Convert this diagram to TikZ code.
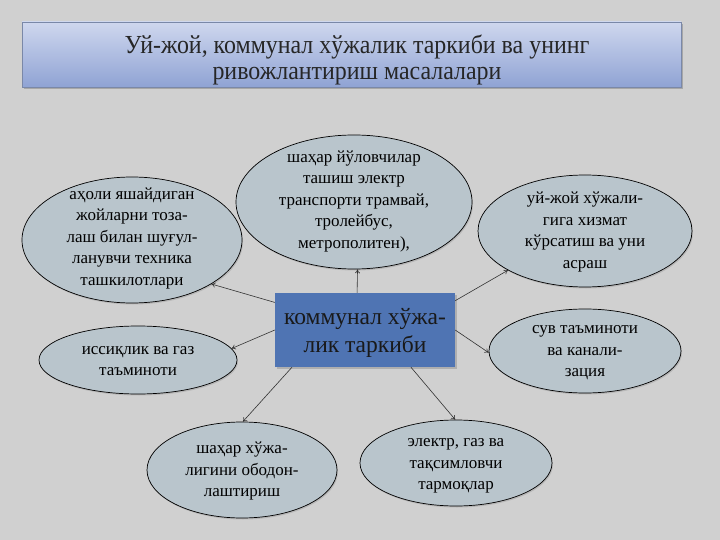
\documentclass[tikz,border=0pt]{standalone}
\usepackage{fontspec}
\setmainfont{Liberation Serif}
\newfontfamily\titlefont[FakeStretch=0.92]{Liberation Serif}
\usetikzlibrary{shapes.geometric,shadows,arrows.meta}
\definecolor{bg}{HTML}{D0D0D0}
\definecolor{ellfill}{HTML}{B9C5CC}
\definecolor{boxblue}{HTML}{4F74B3}
\definecolor{ttop}{HTML}{CFD7EE}
\definecolor{tbot}{HTML}{8FA3D4}
\definecolor{tborder}{HTML}{7A88A8}
\tikzset{
  ell/.style={ellipse, draw=black, line width=0.7pt, fill=ellfill, inner sep=0pt,
    drop shadow={shadow xshift=1pt, shadow yshift=-1.5pt, fill=black!35, opacity=0.6}},
  etxt/.style={align=center, inner sep=0pt, font=\fontsize{17}{21.5}\selectfont},
  arr/.style={-{To[length=4pt,width=5pt]}, draw=black!80, line width=0.6pt},
}
\begin{document}
\begin{tikzpicture}[x=1pt,y=-1pt]
\useasboundingbox[fill=bg] (0,0) rectangle (720,540);
% title
\node[draw=tborder, line width=0.6pt, top color=ttop, bottom color=tbot,
  minimum width=659pt, minimum height=65pt, inner sep=0pt,
  drop shadow={shadow xshift=2pt, shadow yshift=-2pt, fill=black!45, opacity=0.6}]
  (title) at (351.5,54.5) {};
\node[align=center, inner sep=0pt, font=\titlefont\fontsize{26}{25.5}\selectfont, text=black!85]
  (titlet) at (357,60) {Уй-жой, коммунал хўжалик таркиби ва унинг\\ривожлантириш масалалари};
% central box
\node[fill=boxblue, minimum width=180pt, minimum height=74pt, inner sep=0pt,
  drop shadow={shadow xshift=1.5pt, shadow yshift=-1.5pt, fill=black!40, opacity=0.6}]
  (c) at (365,330) {};
\node[align=center, inner sep=0pt, font=\fontsize{23.5}{28}\selectfont, text=black!90]
  (ct) at (365,333) {коммунал хўжа-\\лик таркиби};
% ellipses
\node[ell, minimum width=236pt, minimum height=134pt] (e1) at (354,202) {};
\node[etxt] (e1t) at (354,201) {шаҳар йўловчилар\\ташиш электр\\транспорти трамвай,\\тролейбус,\\метрополитен),};
\node[ell, minimum width=220pt, minimum height=126pt] (e2) at (132,240) {};
\node[etxt] (e2t) at (132,238) {аҳоли яшайдиган\\жойларни тоза-\\лаш билан шуғул-\\ланувчи техника\\ташкилотлари};
\node[ell, minimum width=214pt, minimum height=112pt] (e3) at (585,231) {};
\node[etxt] (e3t) at (585,232) {уй-жой хўжали-\\гига хизмат\\кўрсатиш ва уни\\асраш};
\node[ell, minimum width=198pt, minimum height=68pt] (e4) at (138,360) {};
\node[etxt] (e4t) at (138,361) {иссиқлик ва газ\\таъминоти};
\node[ell, minimum width=192pt, minimum height=84pt] (e5) at (585,351) {};
\node[etxt] (e5t) at (585,353) {сув таъминоти\\ва канали-\\зация};
\node[ell, minimum width=190pt, minimum height=96pt] (e6) at (242,470) {};
\node[etxt] (e6t) at (242,471) {шаҳар хўжа-\\лигини ободон-\\лаштириш};
\node[ell, minimum width=192pt, minimum height=86pt] (e7) at (456,463) {};
\node[etxt] (e7t) at (456,466) {электр, газ ва\\тақсимловчи\\тармоқлар};
% connectors
\draw[arr] (c.102) -- (e1.-87);
\draw[arr] (c.163) -- (e2.-29);
\draw[arr] (c.18) -- (e3.-153);
\draw[arr] (c.180) -- (e4.7);
\draw[arr] (c.0) -- (e5.181);
\draw[arr] (c.-153) -- (e6.89);
\draw[arr] (c.-39) -- (e7.91);
\end{tikzpicture}
\end{document}
